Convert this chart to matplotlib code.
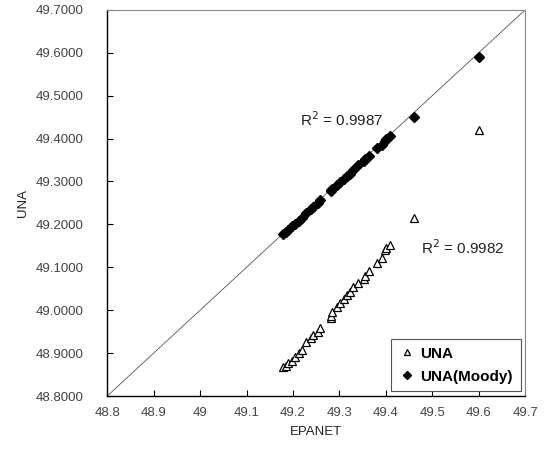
import matplotlib
matplotlib.use('Agg')
import matplotlib.pyplot as plt
import numpy as np

plt.rcParams['font.family'] = ['Liberation Sans', 'DejaVu Sans']

# EPANET head values (x) and UNA results (y)
epanet = [49.179, 49.184, 49.190, 49.199, 49.205, 49.212, 49.220, 49.229, 49.238, 49.244,
          49.253, 49.259, 49.281, 49.281, 49.285, 49.294, 49.302, 49.309, 49.317, 49.322,
          49.330, 49.341, 49.352, 49.356, 49.363, 49.382, 49.391, 49.399, 49.401, 49.410,
          49.460, 49.600]
una = [48.868, 48.870, 48.877, 48.882, 48.891, 48.900, 48.907, 48.926, 48.935, 48.942,
       48.949, 48.959, 48.982, 48.986, 48.996, 49.007, 49.017, 49.026, 49.035, 49.042,
       49.054, 49.063, 49.073, 49.080, 49.091, 49.110, 49.122, 49.140, 49.145, 49.152,
       49.215, 49.420]
una_moody = [49.178, 49.182, 49.188, 49.196, 49.201, 49.208, 49.216, 49.226, 49.236, 49.241,
             49.249, 49.256, 49.277, 49.280, 49.283, 49.292, 49.299, 49.306, 49.313, 49.318,
             49.326, 49.338, 49.348, 49.353, 49.360, 49.377, 49.386, 49.395, 49.398, 49.405,
             49.450, 49.590]

xticks = [48.8, 48.9, 49.0, 49.1, 49.2, 49.3, 49.4, 49.5, 49.6, 49.7]
xtick_labels = ['48.8', '48.9', '49', '49.1', '49.2', '49.3', '49.4', '49.5', '49.6', '49.7']
yticks = [48.8, 48.9, 49.0, 49.1, 49.2, 49.3, 49.4, 49.5, 49.6, 49.7]
r2_moody = 'R$^2$ = 0.9987'
r2_una = 'R$^2$ = 0.9982'


def main():
    fig = plt.figure(figsize=(5.47, 4.49), dpi=100)
    ax = fig.add_axes([0.196, 0.118, 0.764, 0.860])

    # 1:1 line
    ax.plot([48.8, 49.7], [48.8, 49.7], color='#555555', lw=0.6, zorder=1)

    ax.plot(epanet, una, linestyle='none', marker='^', ms=5.5, mfc='white',
            mec='black', mew=0.9, label='UNA', zorder=3)
    ax.plot(epanet, una_moody, linestyle='none', marker='D', ms=5.5, mfc='black',
            mec='black', label='UNA(Moody)', zorder=3)

    ax.text(49.216, 49.443, r2_moody, fontsize=11, va='center', color='#222222')
    ax.text(49.475, 49.145, r2_una, fontsize=11, va='center', color='#222222')

    ax.set_xlim(48.8, 49.7)
    ax.set_ylim(48.8, 49.7)
    ax.set_xticks(xticks)
    ax.set_xticklabels(xtick_labels)
    ax.set_yticks(yticks)
    ax.set_yticklabels(['%.4f' % v for v in yticks])
    ax.tick_params(direction='in', length=4, width=0.8, labelsize=9.5,
                   labelcolor='#444444', top=False, right=False)
    ax.tick_params(axis='x', pad=8)
    ax.tick_params(axis='y', pad=17)

    for side in ['top', 'right']:
        ax.spines[side].set_color('#888888')
        ax.spines[side].set_linestyle((0, (4, 1)))
        ax.spines[side].set_linewidth(0.8)
    for side in ['left', 'bottom']:
        ax.spines[side].set_color('black')
        ax.spines[side].set_linewidth(1.0)

    ax.set_xlabel('EPANET', fontsize=9.5, color='#222222', labelpad=5)
    ax.set_ylabel('UNA', fontsize=9.5, color='#222222', labelpad=5)

    leg = ax.legend(loc='lower right', fancybox=False, framealpha=1, edgecolor='#555555',
                    prop={'weight': 'bold', 'size': 11}, handletextpad=0.4,
                    handlelength=1.0, borderaxespad=0.3, labelspacing=0.6, borderpad=0.5)
    leg.get_frame().set_linewidth(0.8)
    leg.legend_handles[0].set_markersize(4)
    leg.legend_handles[1].set_markersize(4)

    fig.savefig('out.png', dpi=100)


if __name__ == "__main__":
    main()
